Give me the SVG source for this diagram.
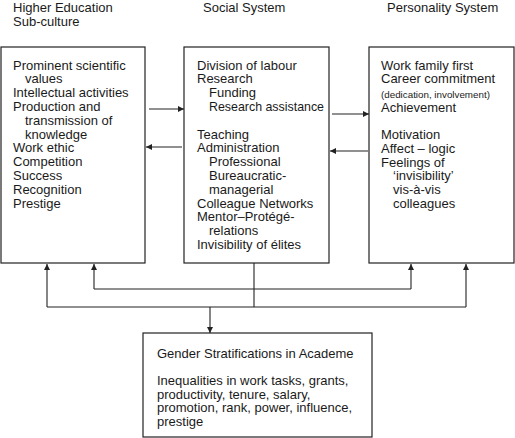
<svg xmlns="http://www.w3.org/2000/svg" width="515" height="438" viewBox="0 0 515 438">
<style>
text{font-family:"Liberation Sans",Arial,sans-serif;font-size:13px;fill:#1a1a1a}
.small{font-size:9.8px}
.box{fill:#fff;stroke:#222;stroke-width:1.2}
.ln{fill:none;stroke:#222;stroke-width:1.1}
</style>
<defs>
<marker id="ah" viewBox="0 0 10 10" refX="10" refY="5" markerWidth="6" markerHeight="6" markerUnits="userSpaceOnUse" orient="auto">
<path d="M0,0 L10,5 L0,10 z" fill="#222"/>
</marker>
</defs>
<rect width="515" height="438" fill="#fff"/>
<g id="headers">
<text x="13" y="12">Higher Education</text>
<text x="13" y="25.5">Sub-culture</text>
<text x="203" y="12">Social System</text>
<text x="387" y="12">Personality System</text>
</g>
<g id="connectors">
<line class="ln" x1="149" y1="109" x2="184" y2="109" marker-end="url(#ah)"/>
<line class="ln" x1="182" y1="147" x2="146" y2="147" marker-end="url(#ah)"/>
<line class="ln" x1="332" y1="114" x2="369" y2="114" marker-end="url(#ah)"/>
<line class="ln" x1="368" y1="151" x2="330" y2="151" marker-end="url(#ah)"/>
<line class="ln" x1="254" y1="263" x2="254" y2="307"/>
<polyline class="ln" points="94,289 411,289"/>
<line class="ln" x1="94" y1="289" x2="94" y2="264" marker-end="url(#ah)"/>
<line class="ln" x1="411" y1="289" x2="411" y2="264" marker-end="url(#ah)"/>
<polyline class="ln" points="47,307 466,307"/>
<line class="ln" x1="47" y1="307" x2="47" y2="264" marker-end="url(#ah)"/>
<line class="ln" x1="466" y1="307" x2="466" y2="264" marker-end="url(#ah)"/>
<line class="ln" x1="210" y1="307" x2="210" y2="333" marker-end="url(#ah)"/>
</g>
<g id="higher-education">
<rect class="box" x="1" y="47" width="144" height="216"/>
<text x="13" y="69.5">Prominent scientific</text>
<text x="25" y="83.3">values</text>
<text x="13" y="97.1">Intellectual activities</text>
<text x="13" y="110.9">Production and</text>
<text x="25" y="124.7">transmission of</text>
<text x="25" y="138.5">knowledge</text>
<text x="13" y="152.3">Work ethic</text>
<text x="13" y="166.1">Competition</text>
<text x="13" y="179.9">Success</text>
<text x="13" y="193.7">Recognition</text>
<text x="13" y="207.5">Prestige</text>
</g>
<g id="social-system">
<rect class="box" x="184" y="47" width="145" height="216"/>
<text x="197" y="69.5">Division of labour</text>
<text x="197" y="83.3">Research</text>
<text x="209" y="97.1">Funding</text>
<text x="209" y="110.9" textLength="115" lengthAdjust="spacingAndGlyphs">Research assistance</text>
<text x="197" y="138.5">Teaching</text>
<text x="197" y="152.3">Administration</text>
<text x="209" y="166.1">Professional</text>
<text x="209" y="179.9">Bureaucratic-</text>
<text x="209" y="193.7">managerial</text>
<text x="197" y="207.5">Colleague Networks</text>
<text x="197" y="221.3">Mentor–Protégé-</text>
<text x="209" y="235.1">relations</text>
<text x="197" y="248.9">Invisibility of élites</text>
</g>
<g id="personality-system">
<rect class="box" x="369" y="47" width="145" height="216"/>
<text x="381" y="69.5">Work family first</text>
<text x="381" y="83.3">Career commitment</text>
<text class="small" x="381" y="97.5">(dedication, involvement)</text>
<text x="381" y="112">Achievement</text>
<text x="381" y="139">Motivation</text>
<text x="381" y="152.8">Affect – logic</text>
<text x="381" y="166.6">Feelings of</text>
<text x="393" y="180.4">‘invisibility’</text>
<text x="393" y="194.2">vis-à-vis</text>
<text x="393" y="208">colleagues</text>
</g>
<g id="gender-stratifications">
<rect class="box" x="143" y="333" width="229" height="104"/>
<text x="157" y="358">Gender Stratifications in Academe</text>
<text x="157" y="385">Inequalities in work tasks, grants,</text>
<text x="157" y="398.6">productivity, tenure, salary,</text>
<text x="157" y="412.2">promotion, rank, power, influence,</text>
<text x="157" y="425.8">prestige</text>
</g>
</svg>
